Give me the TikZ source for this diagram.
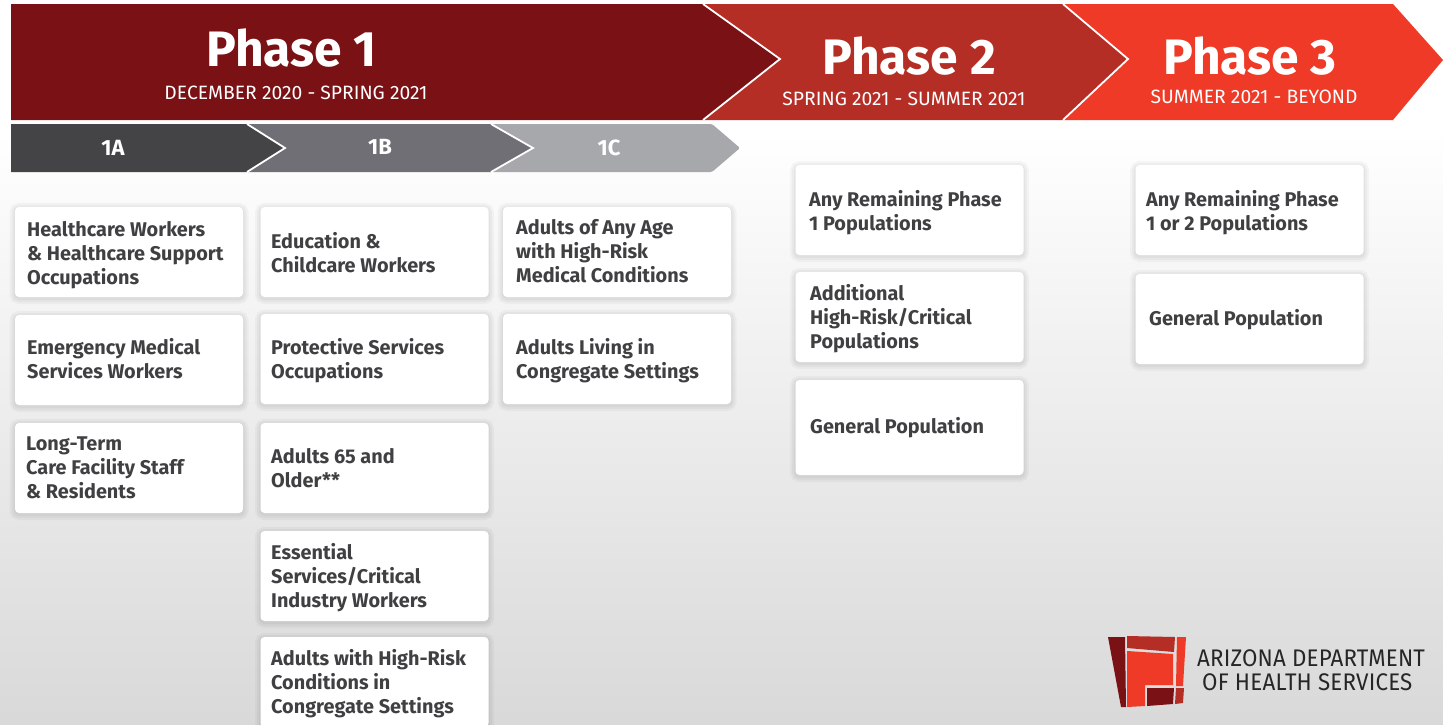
\documentclass[tikz,border=0pt]{standalone}
\usepackage{fontspec}
\setmainfont{Fira Sans}
\newfontface\logofont[FakeStretch=0.93, LetterSpace=0.9]{Fira Sans}
\definecolor{PhaseA}{HTML}{7A1115}
\definecolor{PhaseB}{HTML}{B52E26}
\definecolor{PhaseC}{HTML}{EE3A26}
\definecolor{SubA}{HTML}{444446}
\definecolor{SubB}{HTML}{6F6F75}
\definecolor{SubC}{HTML}{A7A8AC}
\definecolor{CardInk}{HTML}{404042}
\begin{document}
\begin{tikzpicture}[x=1pt,y=-1pt]
		\tikzstyle{Chevron}	= [draw=white, line width=1.8pt, line join=miter]
		\tikzstyle{Title}	= [text=white, inner sep=0pt, font=\fontsize{49.8}{50}\selectfont\bfseries]
		\tikzstyle{Dates}	= [text=white, inner sep=0pt, font=\fontsize{19.3}{20}\selectfont]
		\tikzstyle{Sub}		= [text=white, inner sep=0pt, font=\fontsize{22}{22}\selectfont\bfseries]
		\tikzstyle{Soft}	= [preaction={draw=black, draw opacity=0.03, line width=11pt, transform canvas={yshift=-1.5pt}},
					   preaction={draw=black, draw opacity=0.03, line width=7pt, transform canvas={yshift=-1.5pt}},
					   preaction={draw=black, draw opacity=0.03, line width=3pt, transform canvas={yshift=-1.5pt}}]
		\tikzstyle{Card}	= [rectangle, rounded corners=4pt, Soft, fill=white, minimum width=228pt, minimum height=90pt, inner sep=0pt]
		\tikzstyle{Wide}	= [minimum height=95pt]
		\tikzstyle{Label}	= [text=CardInk, anchor=north west, inner sep=0pt, align=left, execute at begin node={\strut}, font=\fontsize{19.85}{24}\selectfont\bfseries]
		\tikzstyle{LogoLine}	= [text=black!85, inner sep=0pt, anchor=west, font=\fontsize{24}{24}\logofont]

		\useasboundingbox (0,0) rectangle (1443,724);
		\fill[white] (0,0) rectangle (1443,724);
		\shade[top color=white, bottom color=black!15] (0,130) rectangle (1443,724);

		% phase bars
		\fill[PhaseC] (1063,4) -- (1393,4) -- (1443,60) -- (1393,120) -- (1063,120) -- (1128,59) -- cycle;
		\fill[PhaseB] (703,4) -- (1063,4) -- (1128,59) -- (1063,120) -- (703,120) -- (780,59) -- cycle;
		\draw[Chevron] (1063,4) -- (1128,59) -- (1063,120);
		\fill[PhaseA] (11,4) -- (703,4) -- (780,59) -- (703,120) -- (11,120) -- cycle;
		\draw[Chevron] (703,4) -- (780,59) -- (703,120);

		\node (p1) at (291.5,48) [Title] {Phase 1};
		\node (d1) at (296,93) [Dates] {DECEMBER 2020 - SPRING 2021};
		\node (p2) at (909,56) [Title] {Phase 2};
		\node (d2) at (904,99) [Dates] {SPRING 2021 - SUMMER 2021};
		\node (p3) at (1250,56) [Title] {Phase 3};
		\node (d3) at (1254,97) [Dates] {SUMMER 2021 - BEYOND};

		% sub bars
		\fill[SubC, rounded corners=1.5pt] (491,124) -- (712,124) -- (740,148) -- (712,172) -- (491,172) -- (533,148) -- cycle;
		\fill[SubB] (247,124) -- (491,124) -- (533,148) -- (491,172) -- (247,172) -- (285,148) -- cycle;
		\draw[Chevron] (491,124) -- (533,148) -- (491,172);
		\fill[SubA] (11,124) -- (247,124) -- (285,148) -- (247,172) -- (11,172) -- cycle;
		\draw[Chevron] (247,124) -- (285,148) -- (247,172);

		\node (s1) at (113,148) [Sub] {1A};
		\node (s2) at (380,147) [Sub] {1B};
		\node (s3) at (609,148) [Sub] {1C};

		% first column
		\node (a1) at (129,252) [Card] {};
		\node (a2) at (129,360) [Card] {};
		\node (a3) at (129,468) [Card] {};
		\node (a1t) at (27,221) [Label] {Healthcare Workers\\\& Healthcare Support\\Occupations};
		\node (a2t) at (27,338) [Label] {Emergency Medical\\Services Workers};
		\node (a3t) at (26,437) [Label] {Long-Term\\Care Facility Staff\\\& Residents};

		% second column
		\node (b1) at (374.5,252) [Card] {};
		\node (b2) at (374.5,359) [Card] {};
		\node (b3) at (374.5,468) [Card] {};
		\node (b4) at (374.5,576) [Card] {};
		\node (b5) at (374.5,682) [Card] {};
		\node (b1t) at (271,232) [Label] {Education \&\\Childcare Workers};
		\node (b2t) at (271,338) [Label] {Protective Services\\Occupations};
		\node (b3t) at (271,448) [Label] {Adults 65 and\\Older**};
		\node (b4t) at (271,543) [Label] {Essential\\Services/Critical\\Industry Workers};
		\node (b5t) at (271,649) [Label] {Adults with High-Risk\\Conditions in\\Congregate Settings};

		% third column
		\node (c1) at (617,252) [Card] {};
		\node (c2) at (617,359) [Card] {};
		\node (c1t) at (516,219) [Label] {Adults of Any Age\\with High-Risk\\Medical Conditions};
		\node (c2t) at (516,338) [Label] {Adults Living in\\Congregate Settings};

		% phase 2 column
		\node (e1) at (909.5,210) [Card] {};
		\node (e2) at (909.5,317) [Card] {};
		\node (e3) at (909.5,427.5) [Card][Wide] {};
		\node (e1t) at (809,190) [Label] {Any Remaining Phase\\1 Populations};
		\node (e2t) at (810,284) [Label] {Additional\\High-Risk/Critical\\Populations};
		\node (e3t) at (810,416) [Label] {General Population};

		% phase 3 column
		\node (f1) at (1249.5,210) [Card] {};
		\node (f2) at (1249.5,319) [Card] {};
		\node (f1t) at (1146,190) [Label] {Any Remaining Phase\\1 or 2 Populations};
		\node (f2t) at (1149,308) [Label] {General Population};

		% logo
		\fill[PhaseA] (1108,637) -- (1125,637) -- (1126,707) -- (1121,707) -- cycle;
		\fill[PhaseB] (1127,636) -- (1175,637) -- (1174,652) -- (1127,648) -- cycle;
		\fill[PhaseC] (1177,637) -- (1186,637) -- (1183,686) -- (1176,686) -- cycle;
		\fill[PhaseB] (1176,688) -- (1184,688) -- (1183,703) -- (1175,704) -- cycle;
		\fill[PhaseC] (1127,651) -- (1173,654) -- (1173,685) -- (1145,685) -- (1145,706) -- (1127,707) -- cycle;
		\fill[PhaseA] (1147,688) -- (1174,688) -- (1173,704) -- (1147,706) -- cycle;
		\node (l1) at (1197,658) [LogoLine] {ARIZONA DEPARTMENT};
		\node (l2) at (1202,682) [LogoLine] {OF HEALTH SERVICES};
	\end{tikzpicture}
\end{document}
